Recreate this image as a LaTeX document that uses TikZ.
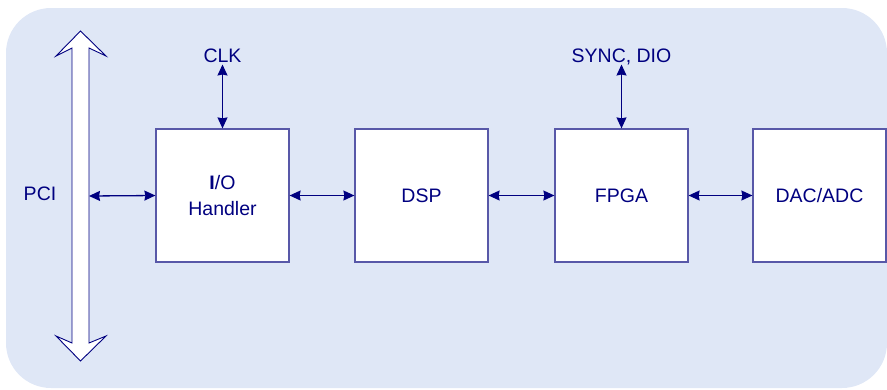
\documentclass[tikz,border=0pt]{standalone}
\usepackage{fontspec}
\setmainfont{Liberation Sans}
\usetikzlibrary{arrows.meta}
\definecolor{bgblue}{HTML}{DFE7F6}
\definecolor{navy}{HTML}{000080}
\definecolor{frameblue}{HTML}{5858A8}
\begin{document}
\begin{tikzpicture}[
        x = 1pt, y = -1pt,
        every node/.style = {text = navy, font = \fontsize{19.5}{26}\selectfont},
        block/.style = {draw = frameblue, line width = 1.2pt, fill = white,
            minimum width = 133pt, minimum height = 133pt, inner sep = 0pt, align = center},
        sig/.style = {text depth = 0pt, inner sep = 1.5pt},
        link/.style = {draw = navy, line width = 1.3pt,
            {Stealth[length = 11pt, width = 10pt, inset = 1pt]}-{Stealth[length = 11pt, width = 10pt, inset = 1pt]}},
        ]
        \useasboundingbox (0,0) rectangle (887,389);
        \fill[bgblue, rounded corners = 45pt] (6,8) rectangle (887,388);
        % PCI bus
        \draw[navy, line width = 0.9pt, fill = white]
            (80.5,31) -- (106,56) -- (89,48) -- (89,343) -- (106,336) -- (80.5,361)
            -- (56,336) -- (72,343) -- (72,48) -- (56,56) -- cycle;
        \coordinate (pcibus) at (89,196);
        \node (pci) at (40,194) {PCI};
        \node[block] (io) at (222.5,195.5) {\textbf{I}/O\\Handler};
        \node[block] (dsp) at (421.5,195.5) {DSP};
        \node[block] (fpga) at (621.5,195.5) {FPGA};
        \node[block] (conv) at (819.5,195.5) {DAC/ADC};
        \node[sig] (clk) at (222.5,56) {CLK};
        \node[sig] (sync) at (621.5,56) {SYNC, DIO};
        \draw[link] (pcibus) -- (io.west);
        \draw[link] (io) -- (dsp);
        \draw[link] (dsp) -- (fpga);
        \draw[link] (fpga) -- (conv);
        \draw[link] (clk) -- (io);
        \draw[link] (sync) -- (fpga);
    \end{tikzpicture}
\end{document}
